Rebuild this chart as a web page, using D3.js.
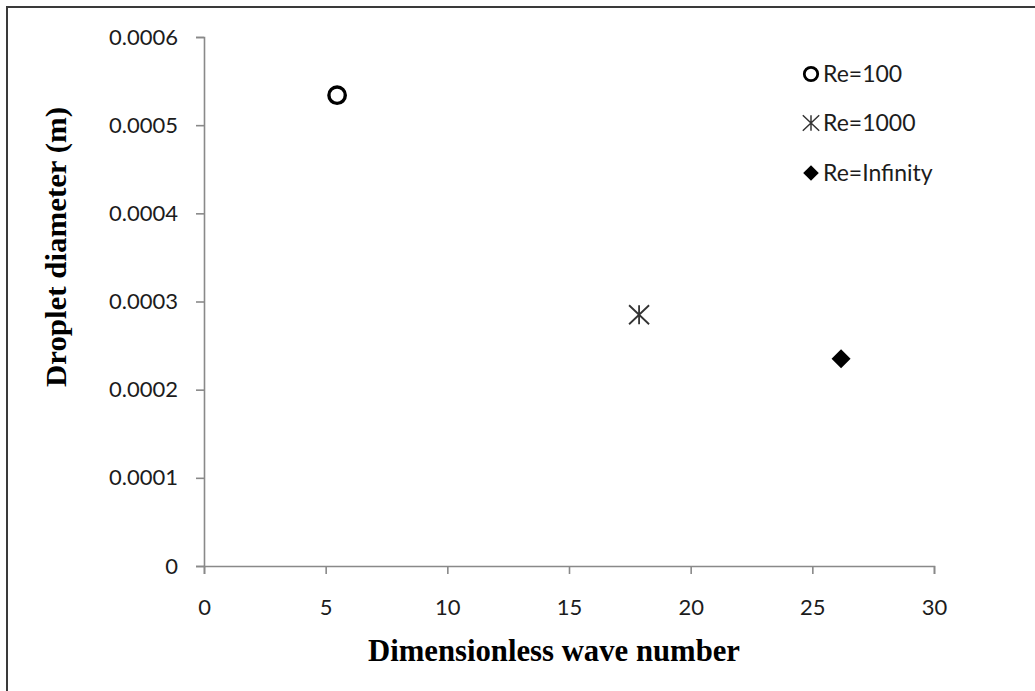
<!DOCTYPE html>
<html>
<head>
<meta charset="utf-8">
<script src="https://cdn.jsdelivr.net/npm/d3@7"></script>
<style>
  html, body { margin: 0; padding: 0; background: #fff; }
  svg { display: block; }
</style>
</head>
<body>
<svg id="chart" width="1035" height="691"></svg>
<script>
// Series: one point per Reynolds number
const seriesNames = ["Re=100", "Re=1000", "Re=Infinity"];
const waveNumbers = [5.47, 17.88, 26.18];
const dropletDiameters = [0.000534, 0.000285, 0.000235];
const markerKinds = ["circle", "star", "diamond"];

// Tick values
const xTicks = [0, 5, 10, 15, 20, 25, 30];
const yTicks = [0, 0.0001, 0.0002, 0.0003, 0.0004, 0.0005, 0.0006];

const svg = d3.select("#chart");
const W = 1035, H = 691;
const plot = { left: 204, right: 934, top: 37, bottom: 566 };

const x = d3.scaleLinear().domain([0, 30]).range([plot.left, plot.right]);
const y = d3.scaleLinear().domain([0, 0.0006]).range([plot.bottom, plot.top]);

const tickFont = "Lato, 'Open Sans', sans-serif";
const axisColor = "#898989";

// Outer frame (left and top edges visible)
svg.append("path")
  .attr("d", `M7,${H} L7,7 L${W},7`)
  .attr("fill", "none")
  .attr("stroke", "#3a3a3a")
  .attr("stroke-width", 2);

// Y axis
const yAxis = svg.append("g")
  .attr("transform", `translate(${plot.left},0)`)
  .call(d3.axisLeft(y).tickValues(yTicks).tickSize(8).tickPadding(18)
    .tickFormat(d => d === 0 ? "0" : d3.format(".4f")(d)));

// X axis
const xAxis = svg.append("g")
  .attr("transform", `translate(0,${plot.bottom})`)
  .call(d3.axisBottom(x).tickValues(xTicks).tickSize(8).tickPadding(25)
    .tickFormat(d3.format("d")));

[yAxis, xAxis].forEach(g => {
  g.select(".domain").attr("stroke", axisColor).attr("stroke-width", 1.6);
  g.selectAll(".tick line").attr("stroke", axisColor).attr("stroke-width", 1.6);
  g.selectAll(".tick text")
    .attr("fill", "#1c1c1c")
    .style("font-family", tickFont)
    .style("font-size", "22px");
});

// Axis titles
svg.append("text")
  .attr("x", 554).attr("y", 661)
  .attr("text-anchor", "middle")
  .attr("textLength", 372).attr("lengthAdjust", "spacingAndGlyphs")
  .style("font-family", "'Liberation Serif', 'Times New Roman', serif")
  .style("font-weight", "bold")
  .style("font-size", "31px")
  .attr("fill", "#000")
  .text("Dimensionless wave number");

svg.append("text")
  .attr("transform", "translate(66,247) rotate(-90)")
  .attr("text-anchor", "middle")
  .attr("textLength", 280).attr("lengthAdjust", "spacingAndGlyphs")
  .style("font-family", "'Liberation Serif', 'Times New Roman', serif")
  .style("font-weight", "bold")
  .style("font-size", "30px")
  .attr("fill", "#000")
  .text("Droplet diameter (m)");

// Marker drawing
function drawMarker(g, kind, s) {
  if (kind === "circle") {
    g.append("circle").attr("r", 8.2 * s)
      .attr("fill", "none").attr("stroke", "#000").attr("stroke-width", 3.4 * s);
  } else if (kind === "star") {
    const a = 10 * s;
    const b = 9.5 * s;
    g.append("path")
      .attr("d", `M${-a},${-b}L${a},${b}M${-a},${b}L${a},${-b}M0,${-b}L0,${b}`)
      .attr("stroke", "#333").attr("stroke-width", 1.8 * s).attr("fill", "none");
  } else {
    const d = 9.5 * s;
    g.append("path")
      .attr("d", `M0,${-d}L${d},0L0,${d}L${-d},0Z`)
      .attr("fill", "#000");
  }
}

// Data points
waveNumbers.forEach((xv, i) => {
  const g = svg.append("g")
    .attr("transform", `translate(${x(xv)},${y(dropletDiameters[i])})`);
  drawMarker(g, markerKinds[i], 1);
});

// Legend
const legendRows = [74, 123, 173];
seriesNames.forEach((name, i) => {
  const g = svg.append("g").attr("transform", `translate(811,${legendRows[i]})`);
  drawMarker(g, markerKinds[i], 0.82);
  g.append("text")
    .attr("x", 12).attr("y", 8)
    .style("font-family", tickFont)
    .style("font-size", "23px")
    .attr("fill", "#1c1c1c")
    .text(name);
});
</script>
</body>
</html>
